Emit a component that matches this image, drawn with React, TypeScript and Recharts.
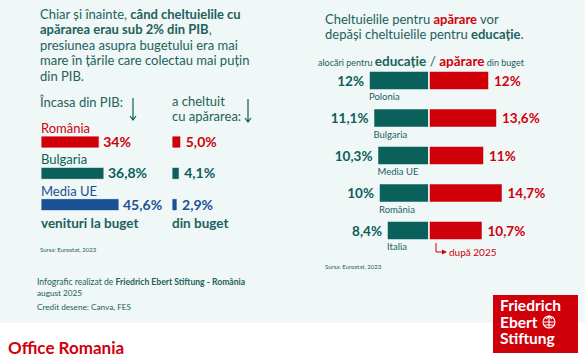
import { BarChart, Bar, XAxis, YAxis, LabelList, Cell } from 'recharts'

const TEAL = '#0a605b'
const TEXT = '#1d615c'
const RED = '#d0000b'
const BLUE = '#1c5094'
const BG = '#eff7f7'
const FONT = 'Lato, "Noto Sans", sans-serif'

// stanga: venituri la buget (% din PIB) si cheltuieli cu apararea (% din buget)
const revCountries = ['România', 'Bulgaria', 'Media UE']
const revenueShare = [34, 36.8, 45.6]
const defenceShare = [5.0, 4.1, 2.9]
const revColors = [RED, TEAL, BLUE]

// dreapta: alocari pentru educatie / aparare din buget
const divCountries = ['Polonia', 'Bulgaria', 'Media UE', 'România', 'Italia']
const eduShare = [12, 11.1, 10.3, 10, 8.4]
const defShare = [12, 13.6, 11, 14.7, 10.7]

const revData = revCountries.map((name, i) => ({ name, rev: revenueShare[i], def: defenceShare[i] }))
const divData = divCountries.map((name, i) => ({ name, edu: -eduShare[i], apa: defShare[i] }))

const fmt = (v: number) => String(Math.abs(v)).replace('.', ',') + '%'
const fmt1 = (v: number) => Math.abs(v).toFixed(1).replace('.', ',') + '%'

function box(p: any) {
  const b = p.viewBox && p.viewBox.width !== undefined ? p.viewBox : p
  const x = Number(b.x), w = Number(b.width), y = Number(b.y), h = Number(b.height)
  return { left: Math.min(x, x + w), right: Math.max(x, x + w), top: Math.min(y, y + h), bottom: Math.max(y, y + h) }
}

function RevValue(props: any) {
  const b = box(props)
  return (
    <text x={b.right + 4} y={(b.top + b.bottom) / 2 + 5} fontSize={14} fontWeight={700} fill={revColors[props.index ?? 0]} fontFamily={FONT}>
      {fmt(props.value)}
    </text>
  )
}

function DefValue(props: any) {
  const b = box(props)
  return (
    <text x={b.right + 5} y={(b.top + b.bottom) / 2 + 5} fontSize={14} fontWeight={700} fill={revColors[props.index ?? 0]} fontFamily={FONT}>
      {fmt1(props.value)}
    </text>
  )
}

function RevName(props: any) {
  const b = box(props)
  return (
    <text x={b.left} y={b.top - 3} fontSize={13} fill={revColors[props.index ?? 0]} fontFamily={FONT}>
      {props.value}
    </text>
  )
}

function EduValue(props: any) {
  const b = box(props)
  return (
    <text x={b.left - 5} y={(b.top + b.bottom) / 2 + 5} textAnchor="end" fontSize={13.5} fontWeight={700} fill={TEAL} fontFamily={FONT}>
      {fmt(props.value)}
    </text>
  )
}

function EduName(props: any) {
  const b = box(props)
  return (
    <text x={b.left} y={b.bottom + 10} fontSize={9.5} fill={TEXT} fontFamily={FONT}>
      {props.value}
    </text>
  )
}

function ApaValue(props: any) {
  const b = box(props)
  return (
    <text x={b.right + 5} y={(b.top + b.bottom) / 2 + 5} fontSize={13.5} fontWeight={700} fill={RED} fontFamily={FONT}>
      {fmt(props.value)}
    </text>
  )
}

export default function App() {
  return (
    <div style={{ position: 'absolute', left: 0, top: 0, width: 585, height: 359, background: '#fff', fontFamily: FONT, overflow: 'hidden' }}>
      <div style={{ position: 'absolute', left: 0, top: 0, width: 585, height: 323, background: BG }} />

      {/* venituri la buget, % din PIB */}
      <div style={{ position: 'absolute', left: 41, top: 116 }}>
        <BarChart width={130} height={104} data={revData} layout="vertical" margin={{ top: 10, right: 0, bottom: 0, left: 0 }}>
          <XAxis type="number" hide domain={[0, 76]} />
          <YAxis type="category" dataKey="name" hide />
          <Bar dataKey="rev" barSize={12} stroke="#ffffff" strokeWidth={0.8} isAnimationActive={false}>
            {revData.map((_, i) => <Cell key={i} fill={revColors[i]} />)}
            <LabelList dataKey="rev" content={<RevValue />} />
            <LabelList dataKey="name" content={<RevName />} />
          </Bar>
        </BarChart>
      </div>

      {/* cheltuieli cu apararea, % din buget */}
      <div style={{ position: 'absolute', left: 172, top: 116 }}>
        <BarChart width={80} height={104} data={revData} layout="vertical" margin={{ top: 10, right: 0, bottom: 0, left: 0 }}>
          <XAxis type="number" hide domain={[0, 45.7]} />
          <YAxis type="category" dataKey="name" hide />
          <Bar dataKey="def" barSize={12} stroke="#ffffff" strokeWidth={0.8} isAnimationActive={false}>
            {revData.map((_, i) => <Cell key={i} fill={revColors[i]} />)}
            <LabelList dataKey="def" content={<DefValue />} />
          </Bar>
        </BarChart>
      </div>

      {/* educatie vs aparare */}
      <div style={{ position: 'absolute', left: 300, top: 52 }}>
        <BarChart width={285} height={212} data={divData} layout="vertical" stackOffset="sign" margin={{ top: 10, right: 0, bottom: 14.5, left: 0 }}>
          <XAxis type="number" hide domain={[-25.8, 31.2]} />
          <YAxis type="category" dataKey="name" hide />
          <Bar dataKey="edu" stackId="s" fill={TEAL} barSize={19} stroke={BG} strokeWidth={1.5} isAnimationActive={false}>
            <LabelList dataKey="edu" content={<EduValue />} />
            <LabelList dataKey="name" content={<EduName />} />
          </Bar>
          <Bar dataKey="apa" stackId="s" fill={RED} barSize={19} stroke={BG} strokeWidth={1.5} isAnimationActive={false}>
            <LabelList dataKey="apa" content={<ApaValue />} />
          </Bar>
        </BarChart>
      </div>

      <svg width={585} height={359} style={{ position: 'absolute', left: 0, top: 0, pointerEvents: 'none' }} fontFamily={FONT}>
        <g fill={TEXT} fontSize={13}>
          <text x={40} y={19}>Chiar și înainte, <tspan fontWeight={700}>când cheltuielile cu</tspan></text>
          <text x={40} y={34}><tspan fontWeight={700}>apărarea erau sub 2% din PIB</tspan>,</text>
          <text x={40} y={50}>presiunea asupra bugetului era mai</text>
          <text x={40} y={65}>mare în țările care colectau mai puțin</text>
          <text x={40} y={81}>din PIB.</text>

          <text x={40} y={107}>Încasa din PIB:</text>
          <text x={172} y={106}>a cheltuit</text>
          <text x={172} y={121}>cu apărarea:</text>
        </g>
        <g stroke={TEAL} strokeWidth={1.2} fill="none">
          <path d="M133 98 V120 M130 116 L133 120 L136 116" />
          <path d="M248 99 V122 M245 118 L248 122 L251 118" />
        </g>
        <text x={41} y={228} fontSize={13.5} fontWeight={700} fill={TEXT}>venituri la buget</text>
        <text x={172} y={228} fontSize={13.5} fontWeight={700} fill={TEXT}>din buget</text>
        <text x={40} y={252} fontSize={6} fill={TEXT}>Sursa: Eurostat, 2023</text>

        <g fill={TEXT} fontSize={13}>
          <text x={325} y={24}>Cheltuielile pentru <tspan fontWeight={700} fill={RED}>apărare</tspan> vor</text>
          <text x={325} y={39}>depăși cheltuielile pentru <tspan fontWeight={700}>educație</tspan>.</text>
        </g>
        <text x={318} y={66} fill={TEXT} fontSize={9}>
          alocări pentru <tspan fontSize={13.5} fontWeight={700}>educație</tspan>
          <tspan fontSize={13.5}> / </tspan>
          <tspan fontSize={13.5} fontWeight={700} fill={RED}>apărare</tspan> din buget
        </text>
        <path d="M436 243 V252 H444" stroke={RED} strokeWidth={1} fill="none" />
        <path d="M442 249.5 L447 252 L442 254.5 Z" fill={RED} />
        <text x={449} y={256} fontSize={10} fill={RED}>după 2025</text>
        <text x={325} y={269} fontSize={6} fill={TEXT}>Sursa: Eurostat, 2023</text>

        <g fill={TEXT} fontSize={8.6}>
          <text x={37} y={285}>Infografic realizat de <tspan fontWeight={700}>Friedrich Ebert Stiftung - România</tspan></text>
          <text x={37} y={296} fontSize={8.2}>august 2025</text>
          <text x={37} y={310} fontSize={8.2}>Credit desene: Canva, FES</text>
        </g>
        <text x={8} y={354} fontSize={17} fontWeight={700} fill={RED}>Office Romania</text>

        <rect x={493} y={295} width={85} height={58} fill={RED} />
        <g fill="#ffffff" fontSize={15.5} fontWeight={700}>
          <text x={500} y={311}>Friedrich</text>
          <text x={500} y={327.5}>Ebert</text>
          <text x={500} y={344}>Stiftung</text>
        </g>
        <g stroke="#ffffff" strokeWidth={1.1} fill="none">
          <circle cx={549} cy={322} r={6} />
          <path d="M549 316 V328 M543.5 322 H554.5 M544.5 325 H553.5 M546 319 L549 316 L552 319" />
        </g>
      </svg>
    </div>
  )
}
